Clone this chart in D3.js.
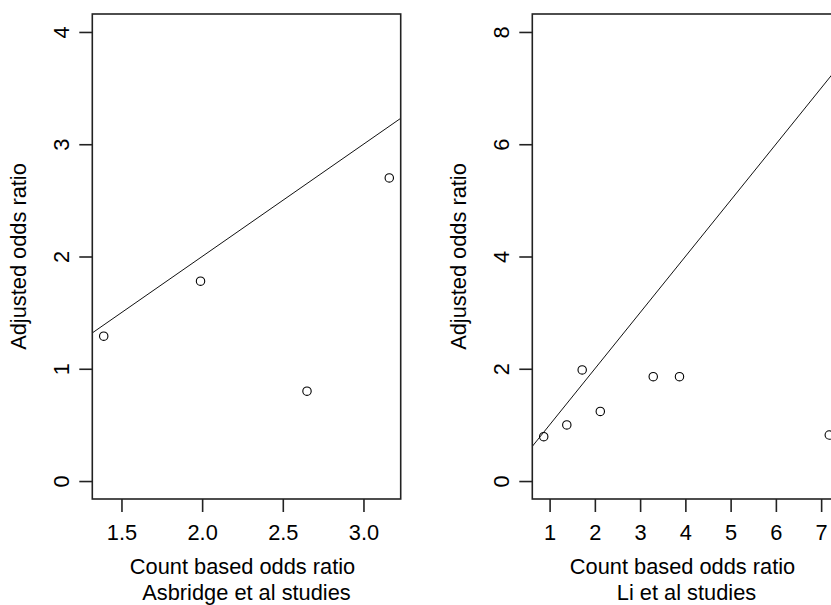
<!DOCTYPE html>
<html>
<head>
<meta charset="utf-8">
<script src="https://cdn.jsdelivr.net/npm/d3@7"></script>
<style>
  body { margin: 0; background: #fff; }
  svg { display: block; }
  text { font-family: "Liberation Sans", Arial, sans-serif; fill: #000; }
</style>
</head>
<body>
<div id="chart"></div>
<script>
// Adjusted vs count based odds ratio, two panels side by side (R style plot)

// left panel: Asbridge et al studies
const asbridgeCount = [1.39, 1.99, 2.65, 3.16];
const asbridgeAdjusted = [1.29, 1.78, 0.80, 2.70];
const asbridgeXTicks = [1.5, 2.0, 2.5, 3.0];
const asbridgeYTicks = [0, 1, 2, 3, 4];
const asbridgeYLim = [0, 4];

// right panel: Li et al studies
const liCount = [0.87, 1.38, 1.72, 2.12, 3.29, 3.87, 7.18];
const liAdjusted = [0.79, 1.00, 1.98, 1.24, 1.86, 1.86, 0.82];
const liXTicks = [1, 2, 3, 4, 5, 6, 7];
const liYTicks = [0, 2, 4, 6, 8];
const liYLim = [0, 8];

const xLabel = "Count based odds ratio";
const yLabel = "Adjusted odds ratio";

const width = 831, height = 605;
const panelWidth = 440;
const plot = { left: 92.3, right: 400.7, top: 14, bottom: 499 };
const fontSize = 21.8;
const tickLen = 13;

const svg = d3.select('#chart')
    .append('svg')
    .attr('width', width)
    .attr('height', height);

// R pads the range by 4% on each side
function pad(ext) {
    const d = (ext[1] - ext[0]) * 0.04;
    return [ext[0] - d, ext[1] + d];
}

function drawPanel(idx, xs, ys, xTicks, yTicks, yLim, xFmt, subtitle) {
    const g = svg.append('g')
        .attr('transform', `translate(${idx * panelWidth},0)`);

    const x = d3.scaleLinear()
        .domain(pad(d3.extent(xs)))
        .range([plot.left, plot.right]);
    const y = d3.scaleLinear()
        .domain(pad(yLim))
        .range([plot.bottom, plot.top]);

    const clipId = 'clip' + idx;
    g.append('clipPath').attr('id', clipId)
        .append('rect')
        .attr('x', plot.left).attr('y', plot.top)
        .attr('width', plot.right - plot.left)
        .attr('height', plot.bottom - plot.top);

    // identity line y = x
    const xd = x.domain();
    g.append('line')
        .attr('clip-path', `url(#${clipId})`)
        .attr('x1', x(xd[0])).attr('y1', y(xd[0]))
        .attr('x2', x(xd[1])).attr('y2', y(xd[1]))
        .attr('stroke', '#111')
        .attr('stroke-width', 1);

    // points
    g.append('g')
        .selectAll('circle')
        .data(xs.map((v, i) => [v, ys[i]]))
        .join('circle')
        .attr('cx', d => x(d[0]))
        .attr('cy', d => y(d[1]))
        .attr('r', 4.2)
        .attr('fill', 'none')
        .attr('stroke', '#000')
        .attr('stroke-width', 1.1);

    // box
    g.append('rect')
        .attr('x', plot.left).attr('y', plot.top)
        .attr('width', plot.right - plot.left)
        .attr('height', plot.bottom - plot.top)
        .attr('fill', 'none')
        .attr('stroke', '#222')
        .attr('stroke-width', 1.6);

    // x axis
    const xAxis = g.append('g')
        .attr('transform', `translate(0,${plot.bottom})`)
        .call(d3.axisBottom(x).tickValues(xTicks).tickFormat(xFmt)
            .tickSize(tickLen).tickSizeOuter(0));
    xAxis.select('.domain').remove();
    xAxis.selectAll('.tick line').attr('stroke', '#222').attr('stroke-width', 1.6);
    xAxis.selectAll('.tick text')
        .attr('y', 41).attr('dy', 0)
        .style('font-size', fontSize + 'px')
        .style('font-family', '"Liberation Sans", Arial, sans-serif')
        .attr('fill', '#000');

    // y axis, labels rotated like R's default las = 0
    const yAxis = g.append('g')
        .attr('transform', `translate(${plot.left},0)`)
        .call(d3.axisLeft(y).tickValues(yTicks).tickFormat(d3.format('d'))
            .tickSize(tickLen).tickSizeOuter(0));
    yAxis.select('.domain').remove();
    yAxis.selectAll('.tick line').attr('stroke', '#222').attr('stroke-width', 1.6);
    yAxis.selectAll('.tick text')
        .attr('transform', 'rotate(-90)')
        .attr('x', 0).attr('y', -23.5).attr('dy', 0)
        .attr('text-anchor', 'middle')
        .style('font-size', fontSize + 'px')
        .style('font-family', '"Liberation Sans", Arial, sans-serif')
        .attr('fill', '#000');

    const cx = (plot.left + plot.right) / 2;
    const cy = (plot.top + plot.bottom) / 2;

    g.append('text')
        .attr('x', cx - 4).attr('y', 574)
        .attr('text-anchor', 'middle')
        .style('font-size', fontSize + 'px')
        .text(xLabel);
    g.append('text')
        .attr('x', cx).attr('y', 600)
        .attr('text-anchor', 'middle')
        .style('font-size', fontSize + 'px')
        .text(subtitle);

    g.append('text')
        .attr('transform', `translate(26,${cy}) rotate(-90)`)
        .attr('text-anchor', 'middle')
        .style('font-size', fontSize + 'px')
        .text(yLabel);
}

drawPanel(0, asbridgeCount, asbridgeAdjusted, asbridgeXTicks, asbridgeYTicks, asbridgeYLim,
    d3.format('.1f'), 'Asbridge et al studies');
drawPanel(1, liCount, liAdjusted, liXTicks, liYTicks, liYLim,
    d3.format('d'), 'Li et al studies');
</script>
</body>
</html>
